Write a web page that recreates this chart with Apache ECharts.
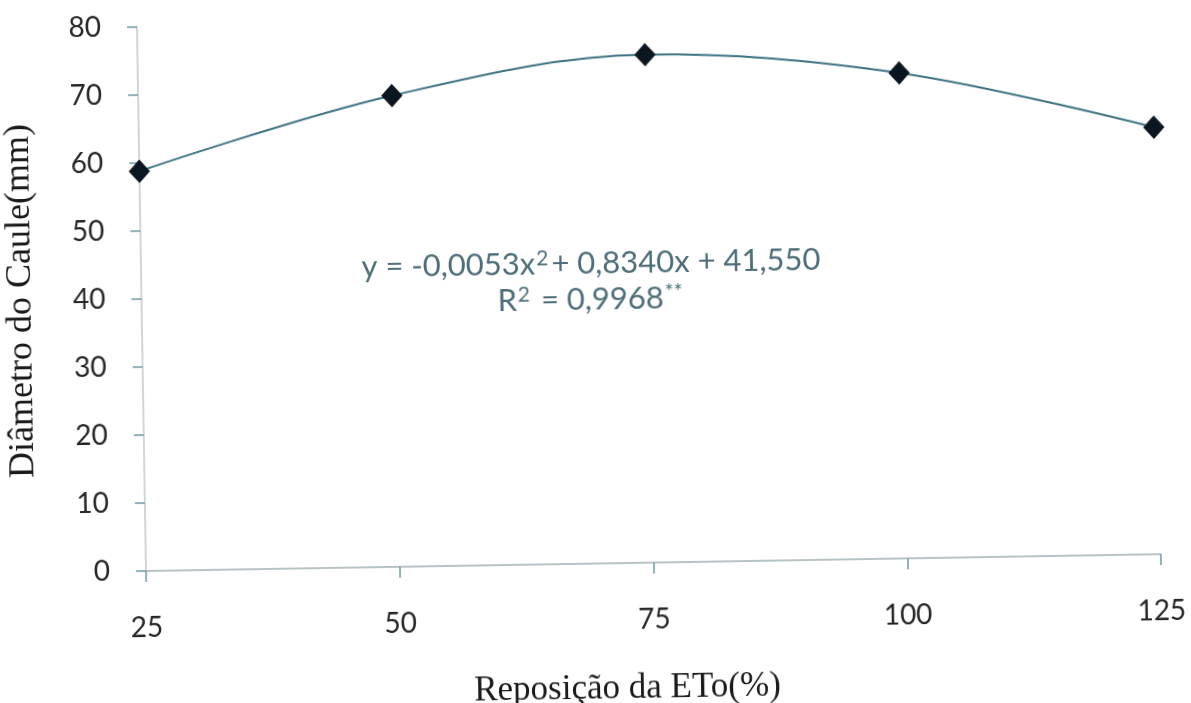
<!DOCTYPE html>
<html>
<head>
<meta charset="utf-8">
<script src="https://cdn.jsdelivr.net/npm/echarts@6/dist/echarts.min.js"></script>
<style>
  html, body { margin: 0; padding: 0; background: #ffffff; overflow: hidden; width: 1191px; height: 703px; }
  #wrap { position: relative; width: 1191px; height: 703px; overflow: hidden; background: #ffffff; }
  #chart {
    position: absolute; left: 0; top: 0;
    width: 1220px; height: 760px;
    transform: rotate(-0.95deg);
    transform-origin: 146px 571px;
  }
</style>
</head>
<body>
<div id="wrap"><div id="chart"></div></div>
<script>
// Irrigation levels (% of ETo replacement) and measured stem diameter
const reposicao = [25, 50, 75, 100, 125];
const diametro = [58.8, 69.3, 74.7, 71.4, 62.8];
const xTicks = [25, 50, 75, 100, 125];
const yTicks = [0, 10, 20, 30, 40, 50, 60, 70, 80];
const equacao = '{t|y = -0,0053x}{s|2}{t|+ 0,8340x + 41,550}';
const r2 = '{t|R}{s|2}{t| = 0,9968}{s|**}';

const chart = echarts.init(document.getElementById('chart'), null, { renderer: 'canvas' });

const serif = '"Liberation Serif", "DejaVu Serif", serif';
const sans = 'Lato, "Open Sans", "Noto Sans", sans-serif';
const eqColor = '#4d6e78';

const eqRich = {
  t: { fontFamily: sans, fontSize: 31, fill: eqColor },
  s: { fontFamily: sans, fontSize: 21, fill: eqColor, verticalAlign: 'top', padding: [0, 3, 12, 1] }
};

chart.setOption({
  animation: false,
  backgroundColor: '#ffffff',
  grid: { left: 146, top: 27, width: 1015, height: 544, containLabel: false, outerBoundsMode: 'none' },
  xAxis: {
    type: 'value',
    min: xTicks[0],
    max: xTicks[xTicks.length - 1],
    interval: 25,
    name: 'Reposição da ETo(%)',
    nameLocation: 'middle',
    nameGap: 108,
    nameTextStyle: { fontFamily: serif, fontSize: 35, color: '#1a1a1a', padding: [0, 56, 0, 0] },
    axisLine: { lineStyle: { color: '#a3b0b4', width: 1.5 } },
    axisTick: { show: true, length: 11, inside: false, lineStyle: { color: '#6f9aa0', width: 1.5 } },
    axisLabel: { margin: 43, fontFamily: sans, fontSize: 28, color: '#262626' },
    splitLine: { show: false }
  },
  yAxis: {
    type: 'value',
    min: yTicks[0],
    max: yTicks[yTicks.length - 1],
    interval: 10,
    name: 'Diâmetro do Caule(mm)',
    nameLocation: 'middle',
    nameGap: 102,
    nameTextStyle: { fontFamily: serif, fontSize: 36, color: '#1a1a1a' },
    axisLine: { show: true, lineStyle: { color: '#c2c9cc', width: 1.5 } },
    axisTick: { show: true, length: 10, lineStyle: { color: '#6f9aa0', width: 1.5 } },
    axisLabel: { margin: 36, fontFamily: sans, fontSize: 28, color: '#262626' },
    splitLine: { show: false }
  },
  graphic: [
    {
      type: 'text', x: 596, y: 271,
      style: { text: equacao, rich: eqRich, align: 'center', verticalAlign: 'middle' }
    },
    {
      type: 'text', x: 596, y: 307,
      style: { text: r2, rich: eqRich, align: 'center', verticalAlign: 'middle' }
    }
  ],
  series: [{
    type: 'line',
    data: reposicao.map((x, i) => [x, diametro[i]]),
    smooth: 0.35,
    symbol: 'diamond',
    symbolSize: [20, 22],
    itemStyle: { color: '#0b1620', borderColor: '#0b1620' },
    lineStyle: { color: '#3e7283', width: 2 },
    z: 3
  }]
});
</script>
</body>
</html>
